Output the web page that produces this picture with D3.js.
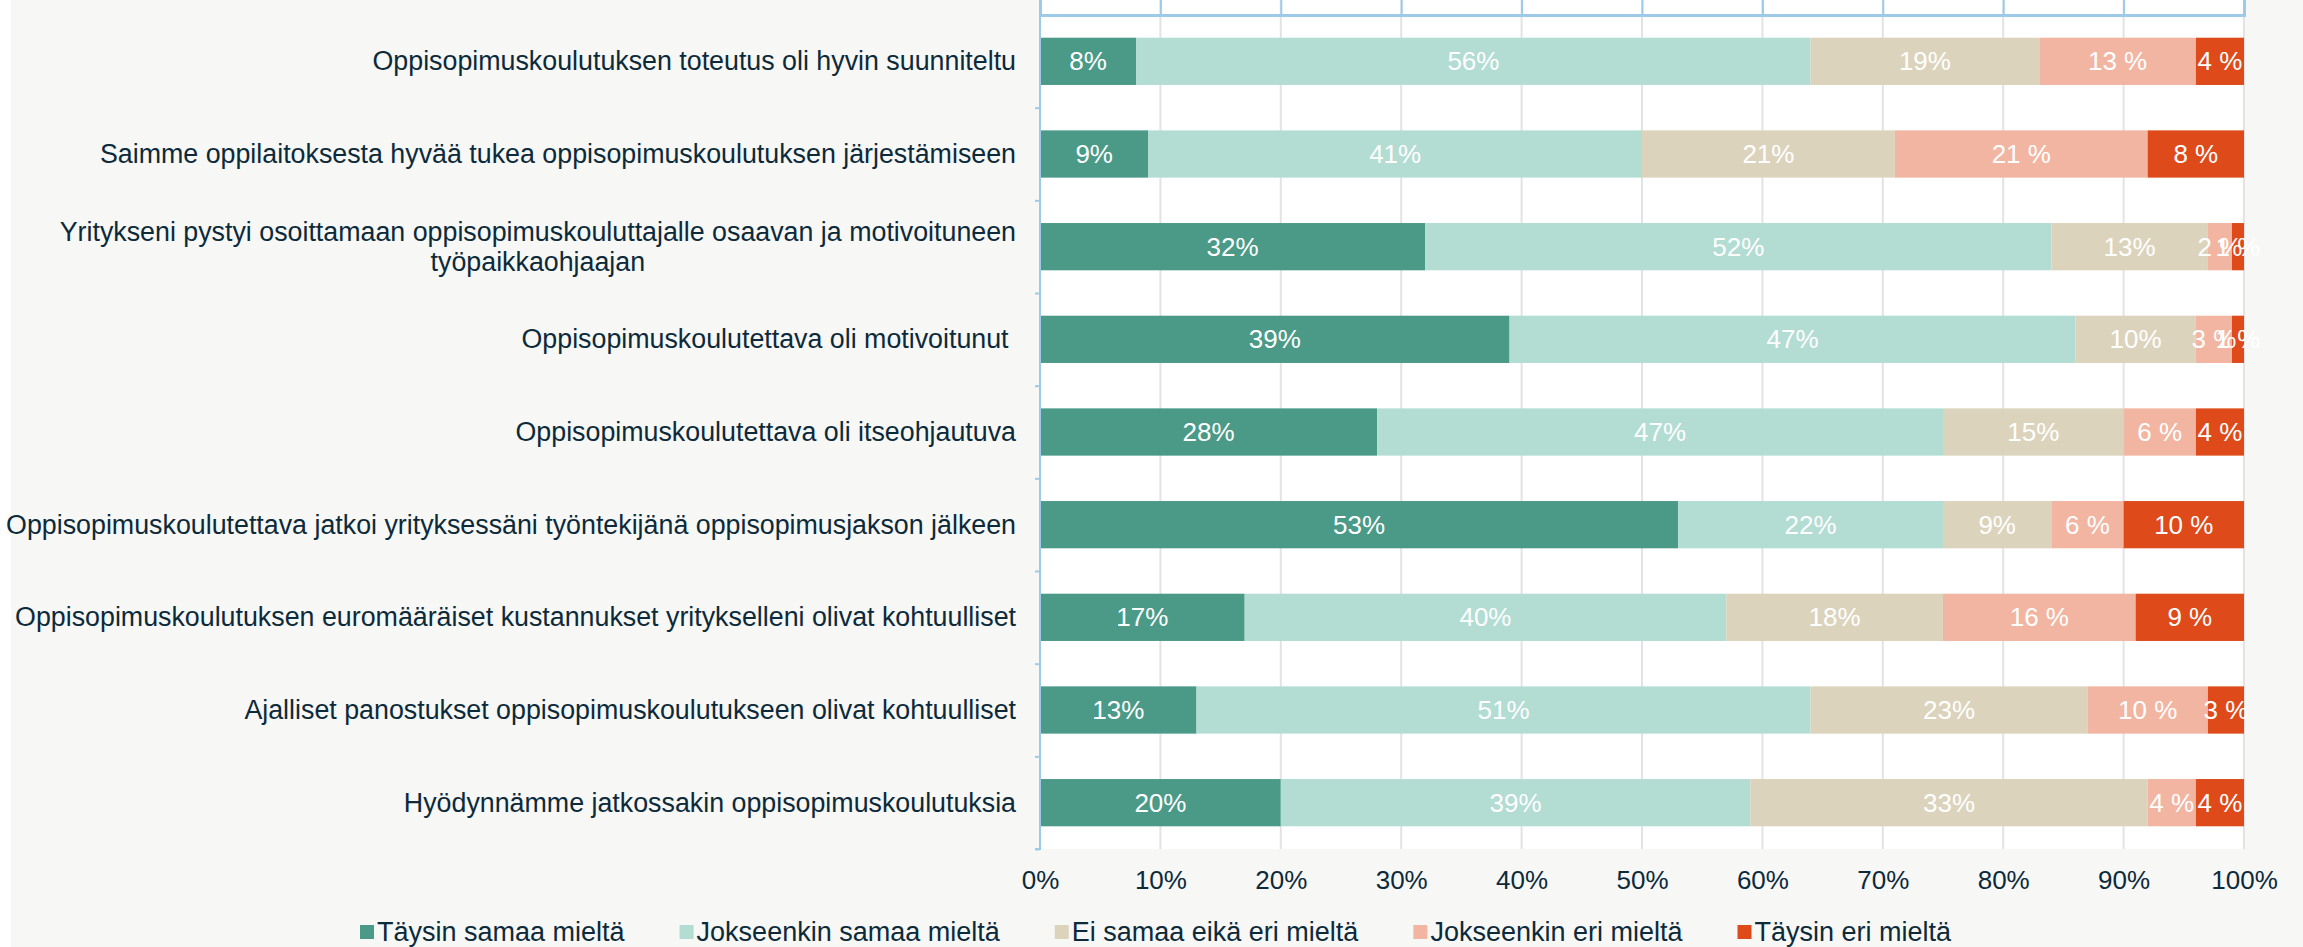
<!DOCTYPE html>
<html>
<head>
<meta charset="utf-8">
<script src="https://d3js.org/d3.v7.min.js"></script>
<style>
  body { margin: 0; background: #f7f7f5; }
  text { font-family: "Liberation Sans", Arial, sans-serif; }
</style>
</head>
<body>
<script>
const [width, height] = [2303, 947]

// questions, top to bottom
const categories = [
    "Oppisopimuskoulutuksen toteutus oli hyvin suunniteltu",
    "Saimme oppilaitoksesta hyvää tukea oppisopimuskoulutuksen järjestämiseen",
    "Yritykseni pystyi osoittamaan oppisopimuskouluttajalle osaavan ja motivoituneen\ntyöpaikkaohjaajan",
    "Oppisopimuskoulutettava oli motivoitunut ",
    "Oppisopimuskoulutettava oli itseohjautuva",
    "Oppisopimuskoulutettava jatkoi yrityksessäni työntekijänä oppisopimusjakson jälkeen",
    "Oppisopimuskoulutuksen euromääräiset kustannukset yritykselleni olivat kohtuulliset",
    "Ajalliset panostukset oppisopimuskoulutukseen olivat kohtuulliset",
    "Hyödynnämme jatkossakin oppisopimuskoulutuksia"
];
const seriesNames = ["Täysin samaa mieltä", "Jokseenkin samaa mieltä", "Ei samaa eikä eri mieltä", "Jokseenkin eri mieltä", "Täysin eri mieltä"];
const taysinSamaa     = [8, 9, 32, 39, 28, 53, 17, 13, 20];
const jokseenkinSamaa = [56, 41, 52, 47, 47, 22, 40, 51, 39];
const eiSamaaEiEri    = [19, 21, 13, 10, 15, 9, 18, 23, 33];
const jokseenkinEri   = [13, 21, 2, 3, 6, 6, 16, 10, 4];
const taysinEri       = [4, 8, 1, 1, 4, 10, 9, 3, 4];
const tickLabels = ["0%", "10%", "20%", "30%", "40%", "50%", "60%", "70%", "80%", "90%", "100%"];

const colors = ["#4a9a87", "#b3dcd3", "#dcd3bc", "#f2b5a2", "#de4a1a"];
const textColor = "#0c2a3a";

const rows = categories.map((c, i) => ({
    cat: c,
    [seriesNames[0]]: taysinSamaa[i],
    [seriesNames[1]]: jokseenkinSamaa[i],
    [seriesNames[2]]: eiSamaaEiEri[i],
    [seriesNames[3]]: jokseenkinEri[i],
    [seriesNames[4]]: taysinEri[i]
}));
const stacked = d3.stack().keys(seriesNames)(rows);

const plotLeft = 1040, plotRight = 2244, plotTop = 15, plotBottom = 849;
const x = d3.scaleLinear().domain([0, 100]).range([plotLeft, plotRight]);
const y = d3.scaleBand().domain(categories).range([plotTop, plotBottom]).paddingInner(0.49).paddingOuter(0.245);

const svg = d3.select("body").append("svg")
    .attr("width", width)
    .attr("height", height);

svg.append("rect").attr("width", width).attr("height", height).attr("fill", "#f7f7f5");
svg.append("rect").attr("width", 11).attr("height", height).attr("fill", "#ffffff");
svg.append("rect").attr("x", plotLeft).attr("y", 0).attr("width", plotRight - plotLeft + 1).attr("height", plotBottom)
    .attr("fill", "#ffffff");

// gridlines
svg.append("g").selectAll("line")
    .data(d3.range(1, 11).map(d => d * 10))
    .enter().append("line")
    .attr("x1", d => x(d)).attr("x2", d => x(d))
    .attr("y1", 0).attr("y2", plotBottom)
    .style("stroke", "#e3e3e3")
    .style("stroke-width", 2);

// bars
const layer = svg.append("g").selectAll("g")
    .data(stacked)
    .enter().append("g")
    .attr("fill", (d, i) => colors[i]);

layer.selectAll("rect")
    .data(d => d)
    .enter().append("rect")
    .attr("x", d => x(d[0]))
    .attr("y", d => y(d.data.cat))
    .attr("width", d => x(d[1]) - x(d[0]))
    .attr("height", y.bandwidth());

// value labels
stacked.forEach((s, si) => {
    svg.append("g").selectAll("text")
        .data(s)
        .enter().append("text")
        .attr("x", d => (x(d[0]) + x(d[1])) / 2)
        .attr("y", d => y(d.data.cat) + y.bandwidth() / 2 + 9)
        .attr("text-anchor", "middle")
        .style("fill", "#ffffff")
        .style("font-size", "26px")
        .text(d => si < 3 ? (d[1] - d[0]) + "%" : (d[1] - d[0]) + " %");
});

// top axis (light blue) with ticks upward
svg.append("g")
    .attr("transform", `translate(0,${plotTop})`)
    .call(d3.axisTop(x).tickValues(d3.range(0, 101, 10)).tickSize(15).tickFormat(""))
    .call(g => g.select(".domain").attr("stroke", "#9ccbea").attr("stroke-width", 3))
    .call(g => g.selectAll(".tick line").attr("stroke", "#9ccbea").attr("stroke-width", 2));

// left axis with ticks at band boundaries
const yEdges = d3.scaleLinear().domain([0, categories.length]).range([plotTop, plotBottom]);
svg.append("g")
    .attr("transform", `translate(${plotLeft},0)`)
    .call(d3.axisLeft(yEdges).tickValues(d3.range(1, categories.length + 1)).tickSize(5).tickFormat(""))
    .call(g => g.select(".domain").attr("d", `M-5,${plotBottom}H0V0`).attr("stroke", "#9ccbea").attr("stroke-width", 2))
    .call(g => g.selectAll(".tick line").attr("stroke", "#9ccbea").attr("stroke-width", 2));

// bottom tick labels
svg.append("g")
    .attr("transform", `translate(0,${plotBottom})`)
    .call(d3.axisBottom(x).tickValues(d3.range(0, 101, 10)).tickSize(0).tickPadding(22)
        .tickFormat((d, i) => tickLabels[i]))
    .call(g => g.select(".domain").remove())
    .call(g => g.selectAll("text").style("font-size", "26px").style("fill", textColor)
        .style("font-family", '"Liberation Sans", Arial, sans-serif'));

// category labels
const labelRight = 1016;
categories.forEach(c => {
    const lines = c.split("\n");
    const cy = y(c) + y.bandwidth() / 2;
    const t = svg.append("text")
        .style("font-size", "26.8px")
        .style("fill", textColor)
        .style("white-space", "pre");
    const lh = 30;
    const y0 = cy + 9 - (lines.length - 1) * lh / 2;
    const spans = lines.map((l, i) => t.append("tspan").attr("y", y0 + i * lh).text(l));
    const widths = spans.map(s => s.node().getComputedTextLength());
    const w = d3.max(widths);
    spans.forEach(s => s.attr("x", labelRight - w / 2).attr("text-anchor", "middle"));
});

// legend
let lx = 360;
const ly = 932;
seriesNames.forEach((n, i) => {
    svg.append("rect").attr("x", lx).attr("y", ly - 7).attr("width", 14).attr("height", 14).attr("fill", colors[i]);
    const t = svg.append("text")
        .attr("x", lx + 17).attr("y", ly + 9)
        .style("font-size", "27px")
        .style("fill", textColor)
        .text(n);
    lx += 17 + t.node().getComputedTextLength() + 55;
});
</script>
</body>
</html>
